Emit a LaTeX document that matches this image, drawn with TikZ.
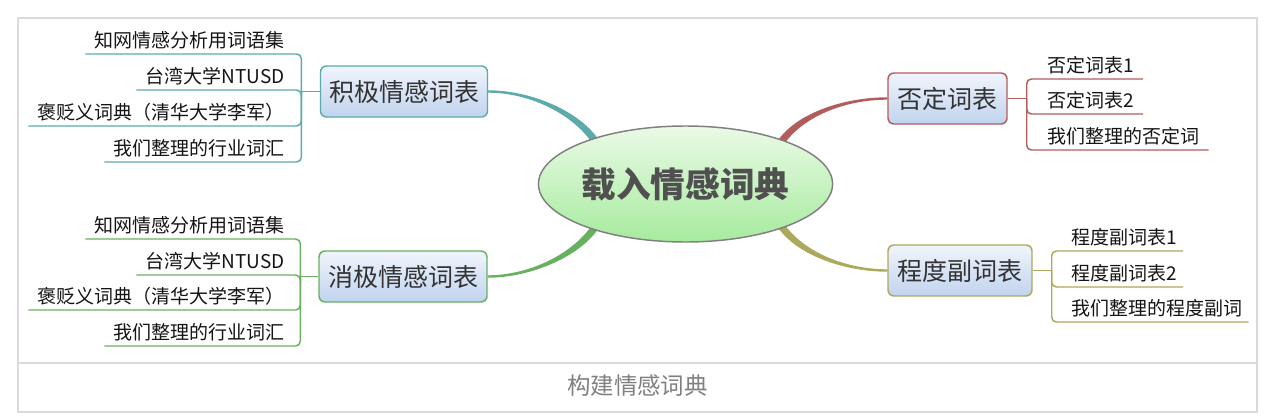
\documentclass[tikz,border=0pt]{standalone}
\usepackage{fontspec}
\setmainfont{Noto Sans CJK SC}
\usetikzlibrary{calc,shapes.geometric}

\definecolor{cTeal}{RGB}{92,170,170}
\definecolor{cGreen}{RGB}{104,176,96}
\definecolor{cRed}{RGB}{178,92,92}
\definecolor{cOlive}{RGB}{172,168,92}
\definecolor{boxTop}{RGB}{240,245,252}
\definecolor{boxBot}{RGB}{192,211,238}
\definecolor{elTop}{RGB}{234,250,230}
\definecolor{elBot}{RGB}{166,235,158}
\definecolor{elBorder}{RGB}{128,128,128}
\definecolor{centerText}{RGB}{80,80,80}
\definecolor{boxText}{RGB}{51,51,51}
\definecolor{itemText}{RGB}{20,20,20}
\definecolor{capText}{RGB}{128,128,128}
\definecolor{frameGrey}{RGB}{218,218,218}

% tapered connector: #1 colour, #2 A (thin end), #3 C1, #4 C2, #5 B (thick end), #6 half width at A, #7 half width at B
\newcommand{\mmtaper}[7]{%
  \coordinate (tA1) at ($(#2)!#6!90:(#3)$);
  \coordinate (tA2) at ($(#2)!#6!-90:(#3)$);
  \coordinate (tB1) at ($(#5)!#7!-90:(#4)$);
  \coordinate (tB2) at ($(#5)!#7!90:(#4)$);
  \fill[#1] (tA1) .. controls ($(#3)+(tA1)-(#2)$) and ($(#4)+(tB1)-(#5)$) .. (tB1)
    -- (tB2) .. controls ($(#4)+(tB2)-(#5)$) and ($(#3)+(tA2)-(#2)$) .. (tA2) -- cycle;
}

\tikzset{
  topic/.style={draw=#1, line width=1.1pt, rounded corners=4.5pt,
    top color=boxTop, bottom color=boxBot, inner sep=0pt,
    minimum height=51*0.75pt, text=boxText,
    font=\fontsize{18.75pt}{20pt}\selectfont},
  item/.style={inner sep=0pt, text=itemText, font=\fontsize{14.25pt}{16pt}\selectfont},
  subline/.style={draw=#1, line width=1.1pt, rounded corners=3.5pt},
  frameline/.style={draw=frameGrey, line width=1.5pt},
}

\begin{document}
\begin{tikzpicture}[x=0.75pt,y=-0.75pt]
\useasboundingbox (0,0) rectangle (1286,418);

% frame
\draw[frameline] (18,18) rectangle (1257,412);
\draw[frameline] (18,363) -- (1257,363);
\node[text=capText, font=\fontsize{17.6pt}{19pt}\selectfont, inner sep=0pt] (cap) at (637.5,386) {构建情感词典};

% central node geometry (drawn after connectors)
\coordinate (elc) at (685.5,184);

% topic boxes
\node[topic=cTeal, minimum width=167*0.75pt] (pos) at (404,91.5) {积极情感词表};
\node[topic=cGreen, minimum width=168*0.75pt] (negs) at (403,276.5) {消极情感词表};
\node[topic=cRed, minimum width=119*0.75pt] (neg) at (947.5,98.5) {否定词表};
\node[topic=cOlive, minimum width=144*0.75pt] (deg) at (960,270.5) {程度副词表};

% central ellipse placed invisibly first for anchors
\path node[ellipse, minimum width=287*0.75pt, minimum height=116*0.75pt, inner sep=0pt] (elx) at (elc) {};

% tapered main connectors
\coordinate (tealB) at ($(elx.155)!4pt!(elc)$);
\coordinate (tealC1) at ($(pos.east)+(43,0)$);
\coordinate (tealC2) at ($(tealB)+(-19,-29)$);
\mmtaper{cTeal}{pos.east}{tealC1}{tealC2}{tealB}{0.9pt}{2.7pt}

\coordinate (greenB) at ($(elx.205)!4pt!(elc)$);
\coordinate (greenC1) at ($(negs.east)+(43,0)$);
\coordinate (greenC2) at ($(greenB)+(-19,29)$);
\mmtaper{cGreen}{negs.east}{greenC1}{greenC2}{greenB}{0.9pt}{2.7pt}

\coordinate (redB) at ($(elx.23)!4pt!(elc)$);
\coordinate (redC1) at ($(neg.west)+(-43,0)$);
\coordinate (redC2) at ($(redB)+(19,-29)$);
\mmtaper{cRed}{neg.west}{redC1}{redC2}{redB}{0.9pt}{2.7pt}

\coordinate (oliveB) at ($(elx.-23)!4pt!(elc)$);
\coordinate (oliveC1) at ($(deg.west)+(-43,0)$);
\coordinate (oliveC2) at ($(oliveB)+(19,29)$);
\mmtaper{cOlive}{deg.west}{oliveC1}{oliveC2}{oliveB}{0.9pt}{2.7pt}

% central ellipse
\node[ellipse, draw=elBorder, line width=1.1pt, top color=elTop, bottom color=elBot,
  minimum width=287*0.75pt, minimum height=116*0.75pt, inner sep=0pt,
  text=centerText, font=\fontsize{26pt}{28pt}\selectfont\bfseries] (el) at (elc) {载入情感词典};

% ---------- positive list ----------
\coordinate (posj) at ($(pos.west)+(-18.5,0)$);
\draw[subline=cTeal] (pos.west) -- (posj);
\node[item, anchor=base east] (p1) at (285,47) {知网情感分析用词语集};
\node[item, anchor=base east] (p2) at (285,83) {台湾大学NTUSD};
\node[item, anchor=base east] (p3) at (285,119) {褒贬义词典（清华大学李军）};
\node[item, anchor=base east] (p4) at (285,155) {我们整理的行业词汇};
\foreach \i in {1,2,3,4}{
  \coordinate (pu\i) at ($(p\i.base west)+(-9,7)$);
  \draw[subline=cTeal] (pu\i) -- (pu\i -| posj) -- (posj);
}

% ---------- negative sentiment list ----------
\coordinate (ngj) at ($(negs.west)+(-18,0)$);
\draw[subline=cGreen] (negs.west) -- (ngj);
\node[item, anchor=base east] (q1) at (285,232) {知网情感分析用词语集};
\node[item, anchor=base east] (q2) at (285,268) {台湾大学NTUSD};
\node[item, anchor=base east] (q3) at (285,303) {褒贬义词典（清华大学李军）};
\node[item, anchor=base east] (q4) at (285,339) {我们整理的行业词汇};
\foreach \i in {1,2,3,4}{
  \coordinate (qu\i) at ($(q\i.base west)+(-9,7)$);
  \draw[subline=cGreen] (qu\i) -- (qu\i -| ngj) -- (ngj);
}

% ---------- negation list ----------
\coordinate (nj) at ($(neg.east)+(19,0)$);
\draw[subline=cRed] (neg.east) -- (nj);
\node[item, anchor=base west] (r1) at (1047,72) {否定词表1};
\node[item, anchor=base west] (r2) at (1047,107) {否定词表2};
\node[item, anchor=base west] (r3) at (1047,143) {我们整理的否定词};
\foreach \i in {1,2,3}{
  \coordinate (ru\i) at ($(r\i.base east)+(9,7)$);
  \draw[subline=cRed] (ru\i) -- (ru\i -| nj) -- (nj);
}

% ---------- degree list ----------
\coordinate (dj) at ($(deg.east)+(19,0)$);
\draw[subline=cOlive] (deg.east) -- (dj);
\node[item, anchor=base west] (s1) at (1071,244) {程度副词表1};
\node[item, anchor=base west] (s2) at (1071,280) {程度副词表2};
\node[item, anchor=base west] (s3) at (1071,315) {我们整理的程度副词};
\foreach \i in {1,2,3}{
  \coordinate (su\i) at ($(s\i.base east)+(6,7)$);
  \draw[subline=cOlive] (su\i) -- (su\i -| dj) -- (dj);
}
\end{tikzpicture}
\end{document}
